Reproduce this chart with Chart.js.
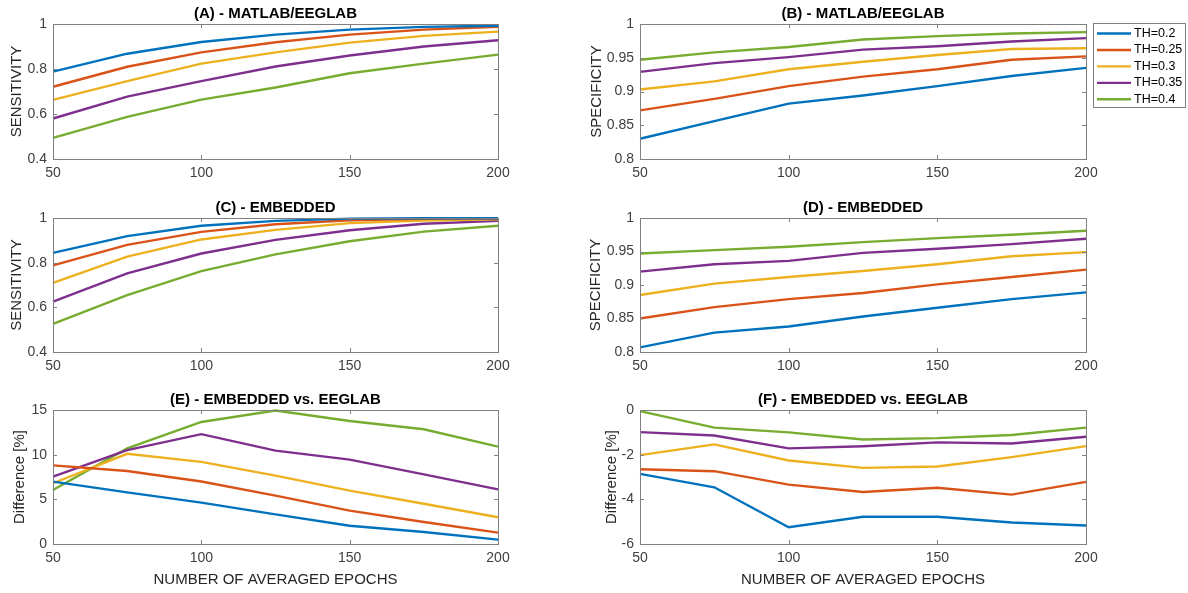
<!DOCTYPE html>
<html>
<head>
    <meta charset="utf-8" />
    <title>Sensitivity / specificity vs. number of averaged epochs</title>
    <script src="https://cdn.jsdelivr.net/npm/chart.js@4.4.0/dist/chart.umd.min.js"></script>
    <style>
        html, body {
            margin: 0;
            padding: 0;
            background: #fff;
        }
        body {
            position: relative;
            width: 1188px;
            height: 593px;
            overflow: hidden;
        }
        canvas {
            position: absolute;
        }
    </style>
</head>
<body>
    <canvas id="cA" width="518" height="189" style="left:0px;top:0px"></canvas>
    <canvas id="cB" width="601" height="189" style="left:587px;top:0px"></canvas>
    <canvas id="cC" width="518" height="188" style="left:0px;top:194px"></canvas>
    <canvas id="cD" width="601" height="188" style="left:587px;top:194px"></canvas>
    <canvas id="cE" width="518" height="207" style="left:0px;top:386px"></canvas>
    <canvas id="cF" width="601" height="207" style="left:587px;top:386px"></canvas>

    <script>
        // x values and series names
        const epochs = [50, 75, 100, 125, 150, 175, 200];
        const thLabels = ['TH=0.2', 'TH=0.25', 'TH=0.3', 'TH=0.35', 'TH=0.4'];
        const lineColors = ['#0072BD', '#D95319', '#EDB120', '#7E2F8E', '#77AC30'];

        // (A) sensitivity, MATLAB/EEGLAB - one row per threshold
        const sensEeglab = [
            [0.788, 0.868, 0.920, 0.953, 0.975, 0.987, 0.992],
            [0.721, 0.810, 0.874, 0.919, 0.953, 0.975, 0.988],
            [0.663, 0.746, 0.824, 0.874, 0.917, 0.947, 0.966],
            [0.580, 0.677, 0.746, 0.811, 0.860, 0.900, 0.928],
            [0.494, 0.587, 0.664, 0.718, 0.781, 0.824, 0.864]
        ];
        // (B) specificity, MATLAB/EEGLAB
        const specEeglab = [
            [0.830, 0.856, 0.882, 0.894, 0.908, 0.923, 0.935],
            [0.872, 0.889, 0.908, 0.922, 0.933, 0.947, 0.952],
            [0.903, 0.915, 0.933, 0.944, 0.954, 0.963, 0.964],
            [0.929, 0.942, 0.951, 0.962, 0.967, 0.974, 0.979],
            [0.947, 0.958, 0.966, 0.977, 0.982, 0.986, 0.988]
        ];
        // (C) sensitivity, embedded
        const sensEmbedded = [
            [0.844, 0.919, 0.965, 0.987, 0.997, 0.999, 0.999],
            [0.788, 0.880, 0.938, 0.972, 0.990, 0.996, 0.998],
            [0.710, 0.827, 0.904, 0.947, 0.977, 0.989, 0.994],
            [0.626, 0.752, 0.841, 0.902, 0.945, 0.974, 0.987],
            [0.526, 0.655, 0.762, 0.837, 0.896, 0.939, 0.965]
        ];
        // (D) specificity, embedded
        const specEmbedded = [
            [0.807, 0.829, 0.838, 0.853, 0.866, 0.879, 0.889],
            [0.850, 0.867, 0.879, 0.888, 0.901, 0.912, 0.923],
            [0.885, 0.902, 0.912, 0.921, 0.931, 0.943, 0.949],
            [0.920, 0.931, 0.936, 0.948, 0.954, 0.961, 0.969],
            [0.947, 0.952, 0.957, 0.964, 0.970, 0.975, 0.981]
        ];
        // (E) sensitivity difference [%]
        const diffSens = [
            [6.98, 5.78, 4.63, 3.32, 2.05, 1.34, 0.49],
            [8.80, 8.17, 7.00, 5.41, 3.73, 2.46, 1.27],
            [6.80, 10.10, 9.20, 7.65, 5.97, 4.50, 2.99],
            [7.54, 10.50, 12.30, 10.45, 9.44, 7.80, 6.12],
            [6.04, 10.70, 13.66, 14.95, 13.77, 12.84, 10.90]
        ];
        // (F) specificity difference [%]
        const diffSpec = [
            [-2.86, -3.46, -5.25, -4.78, -4.78, -5.04, -5.17],
            [-2.65, -2.74, -3.34, -3.67, -3.48, -3.79, -3.22],
            [-2.02, -1.54, -2.26, -2.59, -2.53, -2.11, -1.62],
            [-0.99, -1.14, -1.72, -1.62, -1.45, -1.50, -1.20],
            [-0.05, -0.79, -1.00, -1.32, -1.26, -1.12, -0.79]
        ];

        const axisColor = '#808080';
        const tickColor = '#404040';
        const labelColor = '#262626';
        Chart.defaults.font.family = '"Liberation Sans", Arial, Helvetica, sans-serif';

        // MATLAB style box with inward ticks on all four sides
        const matlabBox = {
            id: 'matlabBox',
            afterDatasetsDraw(chart) {
                const ctx = chart.ctx;
                const a = chart.chartArea;
                const len = 4;
                ctx.save();
                ctx.strokeStyle = axisColor;
                ctx.lineWidth = 1;
                ctx.beginPath();
                chart.scales.x.ticks.forEach(t => {
                    const px = Math.round(chart.scales.x.getPixelForValue(t.value)) + 0.5;
                    ctx.moveTo(px, a.bottom); ctx.lineTo(px, a.bottom - len);
                    ctx.moveTo(px, a.top); ctx.lineTo(px, a.top + len);
                });
                chart.scales.y.ticks.forEach(t => {
                    const py = Math.round(chart.scales.y.getPixelForValue(t.value)) + 0.5;
                    ctx.moveTo(a.left, py); ctx.lineTo(a.left + len, py);
                    ctx.moveTo(a.right, py); ctx.lineTo(a.right - len, py);
                });
                ctx.stroke();
                ctx.strokeRect(Math.round(a.left) + 0.5, Math.round(a.top) + 0.5,
                    Math.round(a.right - a.left), Math.round(a.bottom - a.top));
                ctx.restore();
            }
        };

        // boxed legend to the right of panel B
        const boxLegend = {
            id: 'boxLegend',
            afterDraw(chart) {
                const ctx = chart.ctx;
                const a = chart.chartArea;
                const x0 = Math.round(a.right) + 7, y0 = Math.round(a.top) - 1;
                const w = 92, h = 84;
                ctx.save();
                ctx.fillStyle = '#fff';
                ctx.fillRect(x0, y0, w, h);
                ctx.strokeStyle = axisColor;
                ctx.lineWidth = 1;
                ctx.strokeRect(x0 + 0.5, y0 + 0.5, w, h);
                ctx.font = '12.5px "Liberation Sans", Arial, sans-serif';
                ctx.textBaseline = 'middle';
                ctx.textAlign = 'left';
                chart.data.datasets.forEach((ds, i) => {
                    const y = y0 + 10.5 + i * 16.45;
                    ctx.strokeStyle = ds.borderColor;
                    ctx.lineWidth = 2.4;
                    ctx.beginPath();
                    ctx.moveTo(x0 + 4, y);
                    ctx.lineTo(x0 + 38, y);
                    ctx.stroke();
                    ctx.fillStyle = '#000';
                    ctx.fillText(ds.label, x0 + 41, y);
                });
                ctx.restore();
            }
        };

        function buildDatasets(series) {
            return series.map((vals, i) => ({
                label: thLabels[i],
                data: epochs.map((e, j) => ({ x: e, y: vals[j] })),
                borderColor: lineColors[i],
                backgroundColor: lineColors[i],
                borderWidth: 2.4,
                pointRadius: 0,
                tension: 0,
                fill: false,
                clip: 2
            }));
        }

        function fmt(v) {
            return String(+Number(v).toFixed(2));
        }

        function makePanel(p) {
            const plugins = [matlabBox];
            if (p.legend) plugins.push(boxLegend);
            new Chart(document.getElementById(p.id), {
                type: 'line',
                data: { datasets: buildDatasets(p.series) },
                plugins: plugins,
                options: {
                    responsive: false,
                    animation: false,
                    layout: { padding: { left: 0, top: 0, bottom: 0, right: p.padRight } },
                    plugins: {
                        legend: { display: false },
                        tooltip: { enabled: false },
                        title: {
                            display: true,
                            text: p.title,
                            fullSize: false,
                            color: '#000',
                            font: { size: 15, weight: 'bold', lineHeight: 1.2 },
                            padding: { top: 5, bottom: 1 }
                        }
                    },
                    scales: {
                        x: {
                            type: 'linear',
                            min: 50,
                            max: 200,
                            grid: { display: false, drawTicks: false },
                            border: { display: false },
                            ticks: { stepSize: 50, color: tickColor, font: { size: 14 }, padding: 6, maxRotation: 0 },
                            title: {
                                display: !!p.xlabel,
                                text: p.xlabel || '',
                                color: labelColor,
                                font: { size: 15, lineHeight: 1.2 },
                                padding: { top: 0, bottom: 4.5 }
                            },
                            afterFit(s) { s.height = p.xH; }
                        },
                        y: {
                            min: p.min,
                            max: p.max,
                            grid: { display: false, drawTicks: false },
                            border: { display: false },
                            ticks: { stepSize: p.step, color: tickColor, font: { size: 14 }, padding: 6, callback: fmt },
                            title: {
                                display: true,
                                text: p.ylabel,
                                color: labelColor,
                                font: { size: 15, lineHeight: 1.2 },
                                padding: { top: p.yTitlePad, bottom: 0 }
                            },
                            afterFit(s) { s.width = 53; }
                        }
                    }
                }
            });
        }

        makePanel({ id: 'cA', title: '(A) - MATLAB/EEGLAB', ylabel: 'SENSITIVITY', series: sensEeglab,
            min: 0.4, max: 1, step: 0.2, padRight: 20, xH: 30, yTitlePad: 8 });
        makePanel({ id: 'cB', title: '(B) - MATLAB/EEGLAB', ylabel: 'SPECIFICITY', series: specEeglab,
            min: 0.8, max: 1, step: 0.05, padRight: 102, xH: 30, yTitlePad: 0.7, legend: true });
        makePanel({ id: 'cC', title: '(C) - EMBEDDED', ylabel: 'SENSITIVITY', series: sensEmbedded,
            min: 0.4, max: 1, step: 0.2, padRight: 20, xH: 30, yTitlePad: 8 });
        makePanel({ id: 'cD', title: '(D) - EMBEDDED', ylabel: 'SPECIFICITY', series: specEmbedded,
            min: 0.8, max: 1, step: 0.05, padRight: 102, xH: 30, yTitlePad: 0 });
        makePanel({ id: 'cE', title: '(E) - EMBEDDED vs. EEGLAB', ylabel: 'Difference [%]', series: diffSens,
            min: 0, max: 15, step: 5, padRight: 20, xH: 49, yTitlePad: 10.7, xlabel: 'NUMBER OF AVERAGED EPOCHS' });
        makePanel({ id: 'cF', title: '(F) - EMBEDDED vs. EEGLAB', ylabel: 'Difference [%]', series: diffSpec,
            min: -6, max: 0, step: 2, padRight: 102, xH: 49, yTitlePad: 15.7, xlabel: 'NUMBER OF AVERAGED EPOCHS' });
    </script>
</body>
</html>
